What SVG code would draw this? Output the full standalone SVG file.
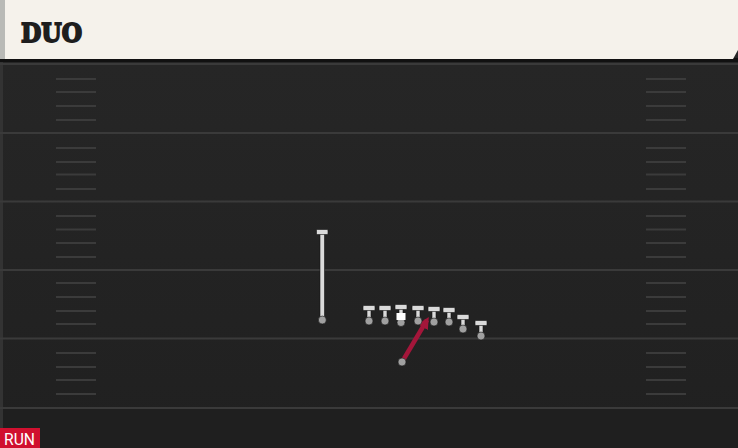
<svg xmlns="http://www.w3.org/2000/svg" width="738" height="448" viewBox="0 0 738 448">
<style>
.yl{stroke:#3a3a3a;stroke-width:2}
.hm{stroke:#3b3b3b;stroke-width:2}
.bar{fill:#dadada;stroke:#151515;stroke-width:0.6}
.dot{fill:#a0a0a0;stroke:#151515;stroke-width:0.6}
.title{font-family:"DejaVu Serif",serif;font-weight:bold;font-size:26px;fill:#1e1e1e;stroke:#1e1e1e;stroke-width:1.8}
.tag{font-family:Roboto,"Liberation Sans",sans-serif;font-size:16px;fill:#ffffff}
</style>
<defs>
<linearGradient id="fld" x1="0" y1="0" x2="0" y2="1">
<stop offset="0" stop-color="#272727"/>
<stop offset="1" stop-color="#202020"/>
</linearGradient>
<marker id="ah" viewBox="0 0 10 10" refX="7" refY="5" markerWidth="2.6" markerHeight="2.6" orient="auto" markerUnits="strokeWidth">
<path d="M0,0 L10,5 L0,10 Z" fill="#a3163a"/>
</marker>
</defs>
<rect x="0" y="0" width="738" height="448" fill="url(#fld)"/>
<rect x="0" y="408" width="738" height="40" fill="#1f1f1f"/>
<rect x="0" y="60" width="3" height="388" fill="#333333"/>
<g id="field">
<line class="yl" x1="0" y1="64" x2="738" y2="64"/>
<line class="yl" x1="0" y1="133" x2="738" y2="133"/>
<line class="yl" x1="0" y1="201.5" x2="738" y2="201.5"/>
<line class="yl" x1="0" y1="270" x2="738" y2="270"/>
<line class="yl" x1="0" y1="338.5" x2="738" y2="338.5"/>
<line class="yl" x1="0" y1="408" x2="738" y2="408"/>
<g id="hashes">
<path class="hm" d="M56 79H96M56 92H96M56 106H96M56 120H96M56 148H96M56 162H96M56 174.5H96M56 189H96M56 216H96M56 229.5H96M56 243H96M56 257H96M56 283H96M56 297H96M56 311H96M56 324H96M56 353H96M56 367H96M56 380H96M56 394H96"/>
<path class="hm" d="M646 79H686M646 92H686M646 106H686M646 120H686M646 148H686M646 162H686M646 174.5H686M646 189H686M646 216H686M646 229.5H686M646 243H686M646 257H686M646 283H686M646 297H686M646 311H686M646 324H686M646 353H686M646 367H686M646 380H686M646 394H686"/>
</g>
</g>
<g id="header">
<rect x="0" y="58" width="738" height="4" fill="#111111"/>
<path d="M0 0H738V50L733 59H0Z" fill="#f5f2eb"/>
<rect x="0" y="0" width="5" height="59" fill="#b9bab6"/>
<text class="title" x="21" y="42" textLength="61" lengthAdjust="spacingAndGlyphs">DUO</text>
</g>
<g id="connectors">
<line x1="402" y1="362" x2="427" y2="320" stroke="#a3163a" stroke-width="4.5" marker-end="url(#ah)"/>
</g>
<g id="runner">
<circle class="dot" cx="402" cy="362" r="4"/>
</g>
<g id="back">
<rect class="bar" x="320" y="232" width="4.5" height="88"/>
<rect class="bar" x="316.5" y="229.5" width="11.5" height="5" rx="1"/>
<circle class="dot" cx="322.3" cy="320" r="4"/>
</g>
<g id="l1"><rect class="bar" x="367" y="308" width="4" height="13"/><rect class="bar" x="363" y="305.5" width="12" height="5" rx="1"/><circle class="dot" cx="369" cy="321" r="4"/></g>
<g id="l2"><rect class="bar" x="383" y="308" width="4" height="13"/><rect class="bar" x="379" y="305.5" width="12" height="5" rx="1"/><circle class="dot" cx="385" cy="321" r="4"/></g>
<g id="l3"><rect class="bar" x="399" y="307" width="4" height="15"/><rect class="bar" x="395" y="304.5" width="12" height="5" rx="1"/><circle class="dot" cx="401" cy="322.5" r="4"/><rect x="396.5" y="313" width="9" height="7" fill="#ffffff"/></g>
<g id="l4"><rect class="bar" x="416" y="308" width="4" height="13"/><rect class="bar" x="412" y="305.5" width="12" height="5" rx="1"/><circle class="dot" cx="418" cy="321" r="4"/></g>
<g id="l5"><rect class="bar" x="432" y="309" width="4" height="13"/><rect class="bar" x="428" y="306.5" width="12" height="5" rx="1"/><circle class="dot" cx="434" cy="322" r="4"/></g>
<g id="l6"><rect class="bar" x="447" y="310" width="4" height="12"/><rect class="bar" x="443" y="307.5" width="12" height="5" rx="1"/><circle class="dot" cx="449" cy="322" r="4"/></g>
<g id="l7"><rect class="bar" x="461" y="317" width="4" height="12"/><rect class="bar" x="457" y="314.5" width="12" height="5" rx="1"/><circle class="dot" cx="463" cy="329" r="4"/></g>
<g id="l8"><rect class="bar" x="479" y="323" width="4" height="13"/><rect class="bar" x="475" y="320.5" width="12" height="5" rx="1"/><circle class="dot" cx="481" cy="336" r="4"/></g>
<g id="tag">
<rect x="0" y="428" width="40" height="20" fill="#d0102f"/>
<text class="tag" x="4" y="445" textLength="31" lengthAdjust="spacingAndGlyphs">RUN</text>
</g>
</svg>
